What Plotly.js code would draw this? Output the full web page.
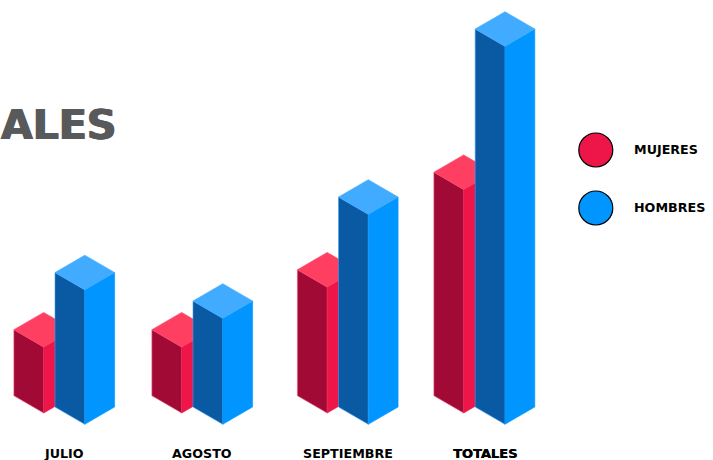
<!DOCTYPE html>
<html><head><meta charset="utf-8">
<script src="https://cdn.plot.ly/plotly-3.0.1.min.js"></script>
<style>html,body{margin:0;padding:0;background:#fff}#c{width:713px;height:460px}</style>
</head><body><div id="c"></div>
<script>
// Data (bar heights)
const categories = ['JULIO', 'AGOSTO', 'SEPTIEMBRE', 'TOTALES'];
const mujeres = [66, 66, 126, 223.5];
const hombres = [134.5, 106, 210, 378];
const seriesNames = ['MUJERES', 'HOMBRES'];

// Layout of the isometric groups, in axis units
const labelX = [64, 202, 348, 484.5];
const womenFrontX = [43.7, 181.7, 327.2, 463.7];
const menFrontX = [84.8, 222.8, 368.3, 505];
const womenBase = 47;
const menBase = 35.7;
const halfW = 29.8, halfD = 17.3;

const styleW = {left:'#A00A35', right:'#EE1549', top:'#FF3F62', edge:'#F0557E'};
const styleM = {left:'#0A5AA3', right:'#0095FF', top:'#40ABFF', edge:'#3FA0EE'};

function face(xs, ys, color, edge) {
  return {type:'scatter', mode:'lines', x:xs, y:ys, fill:'toself', fillcolor:color,
    line:{color:edge, width:0.6}, hoverinfo:'skip', showlegend:false};
}
function bar(cx, base, v, s) {
  const top = base + v;
  return [
    face([cx-halfW, cx, cx, cx-halfW, cx-halfW],
         [base+halfD, base, top, top+halfD, base+halfD], s.left, s.edge),
    face([cx, cx+halfW, cx+halfW, cx, cx],
         [base, base+halfD, top+halfD, top, base], s.right, s.right),
    face([cx-halfW, cx, cx+halfW, cx, cx-halfW],
         [top+halfD, top, top+halfD, top+2*halfD, top+halfD], s.top, s.top)
  ];
}
const traces = [];
categories.forEach((c, i) => {
  traces.push(...bar(womenFrontX[i], womenBase, mujeres[i], styleW));
  traces.push(...bar(menFrontX[i], menBase, hombres[i], styleM));
});
const legendX = 595.8, legendY = [310, 252];
[styleW.right, styleM.right].forEach((col, i) => {
  traces.push({type:'scatter', mode:'markers', x:[legendX], y:[legendY[i]], name:seriesNames[i],
    marker:{size:34, color:col, line:{color:'#000', width:1.2}}, hoverinfo:'name', showlegend:false});
});
const labelFont = {family:'"DejaVu Sans", sans-serif', size:12.7, color:'#000', weight:700};
const totalFont = Object.assign({}, labelFont, {size:13, shadow:'0.4px 0 0 #000'});
const layout = {
  width:713, height:460, margin:{l:0,r:0,t:0,b:0},
  paper_bgcolor:'#fff', plot_bgcolor:'#fff', showlegend:false,
  xaxis:{range:[0,713], showgrid:false, zeroline:false, showline:false, fixedrange:true, visible:false},
  yaxis:{range:[0,460], showgrid:false, zeroline:false, showline:false, fixedrange:true, visible:false},
  annotations:[
    {x:0, y:335, xref:'x', yref:'y', xanchor:'left', yanchor:'middle', showarrow:false, text:'ALES', xshift:-1,
     font:{family:'"DejaVu Sans", sans-serif', size:41, color:'#58595B', weight:700, shadow:'0.8px 0 0 #58595B, -0.8px 0 0 #58595B'}},
    ...seriesNames.map((n,i)=>({x:634, y:legendY[i]+0.5, xref:'x', yref:'y', xanchor:'left', yanchor:'middle',
      showarrow:false, text:n, xshift:-2, font:labelFont})),
    ...categories.map((n,i)=>({x:labelX[i], y:7, xref:'x', yref:'y', xanchor:'center', yanchor:'middle',
      showarrow:false, text:n, font:i===3?totalFont:labelFont}))
  ]
};
Plotly.newPlot('c', traces, layout, {displayModeBar:false, staticPlot:true});
</script></body></html>
